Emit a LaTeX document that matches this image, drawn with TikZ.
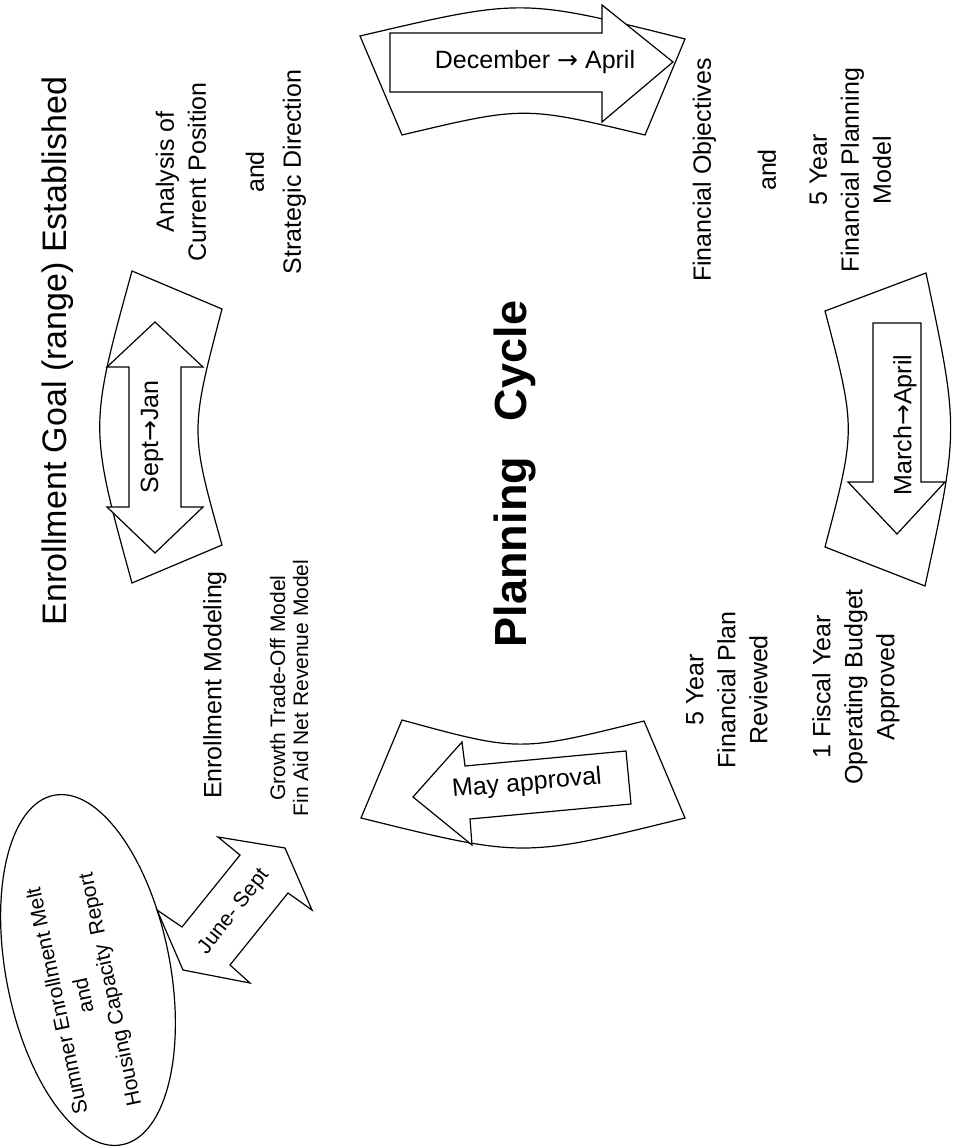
\documentclass[tikz,border=0pt]{standalone}
\usepackage{fontspec}
\setmainfont{Liberation Sans}
\newfontfamily\arrowfont{DejaVu Sans}
\usepackage{tikz}
\usetikzlibrary{shapes,arrows,positioning}

\newcommand{\toarrow}{{\arrowfont →}}

\begin{document}
\begin{tikzpicture}[x=1pt, y=-1pt]
    % Define styles
    \tikzstyle{band} = [draw=black, fill=white, line width=1.2pt]
    \tikzstyle{blockarrow} = [draw=black, fill=white, line width=1.2pt]
    \tikzstyle{cycletext} = [rotate=90, align=center, inner sep=0pt, font=\fontsize{25}{32}\selectfont]
    \tikzstyle{smalltext} = [align=center, inner sep=0pt, font=\fontsize{21}{23}\selectfont]
    \tikzstyle{arrowtext} = [inner sep=0pt, font=\fontsize{25}{30}\selectfont]
    \tikzstyle{heading} = [rotate=90, inner sep=0pt, font=\fontsize{45}{54}\selectfont\bfseries]

    \useasboundingbox (0,0) rectangle (953,1147);

    % Bands
    \draw[band] (360,36) .. controls (522,-2) .. (685,39) -- (645,135) .. controls (524,106) .. (402,135) -- cycle;
    \draw[band] (132,271) .. controls (89,427) .. (132,583) -- (222,545) .. controls (190,431) .. (222,309) -- cycle;
    \draw[band] (825,311) -- (926,273) .. controls (959,429) .. (925,586) -- (825,547) .. controls (856,429) .. (825,311) -- cycle;
    \draw[band] (402,720) .. controls (519,752) .. (644,721) -- (685,818) .. controls (523,858) .. (361,818) -- cycle;

    % Block arrows
    \draw[blockarrow] (390,33) -- (602,33) -- (602,5) -- (673,62) -- (602,122) -- (602,92) -- (390,92) -- cycle;
    \draw[blockarrow] (873,323) -- (921,323) -- (921,482) -- (945,482) -- (897,534) -- (848,482) -- (873,482) -- cycle;
    \draw[blockarrow] (413,797) -- (462,742) -- (465,766) -- (626,751) -- (631,804) -- (470,819) -- (472,845) -- cycle;
    \draw[blockarrow] (155,322) -- (203,367) -- (181,367) -- (181,507) -- (203,507) -- (155,553) -- (107,507) -- (129,507) -- (129,367) -- (107,367) -- cycle;
    \draw[blockarrow] (218,837) -- (285,848) -- (312,910) -- (288,893) -- (230,965) -- (250,983) -- (183,970) -- (157,910) -- (182,927) -- (240,855) -- cycle;

    % Nodes
    \node[draw, ellipse, line width=1.2pt, minimum width=356pt, minimum height=164pt, inner sep=0pt, rotate=101] (melt) at (88,970) {};
    \node[smalltext, rotate=102, font=\fontsize{21}{27}\selectfont] (melttext) at (85,995) {Summer Enrollment Melt\\and\\Housing Capacity \hspace{4pt}Report};
    \node[smalltext, rotate=52] (junesept) at (234,912) {June- Sept};

    \node[arrowtext] (decapr) at (535,62) {December \toarrow\ April};
    \node[arrowtext, rotate=90] (marapr) at (905,425) {March\toarrow April};
    \node[arrowtext, rotate=5] (may) at (527,784) {May approval};
    \node[arrowtext, rotate=90] (septjan) at (152,437) {Sept\toarrow Jan};

    \node[heading] (cycle) at (515,474) {Planning\hspace{36pt}Cycle};

    \node[cycletext, font=\fontsize{34}{40}\selectfont] (goal) at (58,351) {Enrollment Goal (range) Established};
    \node[cycletext] (analysis) at (231,172) {Analysis of\\Current Position\\[26pt]and\\[5pt]Strategic Direction};
    \node[cycletext] (objectives) at (792,170) {Financial Objectives\\[33pt]and\\[19pt]5 Year\\Financial Planning\\Model};
    \node[cycletext] (reviewed) at (727,690) {5 Year\\Financial Plan\\Reviewed};
    \node[cycletext] (budget) at (856,687) {1 Fiscal Year\\Operating Budget\\Approved};
    \node[cycletext] (emodel) at (215,685) {Enrollment Modeling};
    \node[smalltext, rotate=90] (models) at (289,688) {Growth Trade-Off Model\\Fin Aid Net Revenue Model};
\end{tikzpicture}
\end{document}
